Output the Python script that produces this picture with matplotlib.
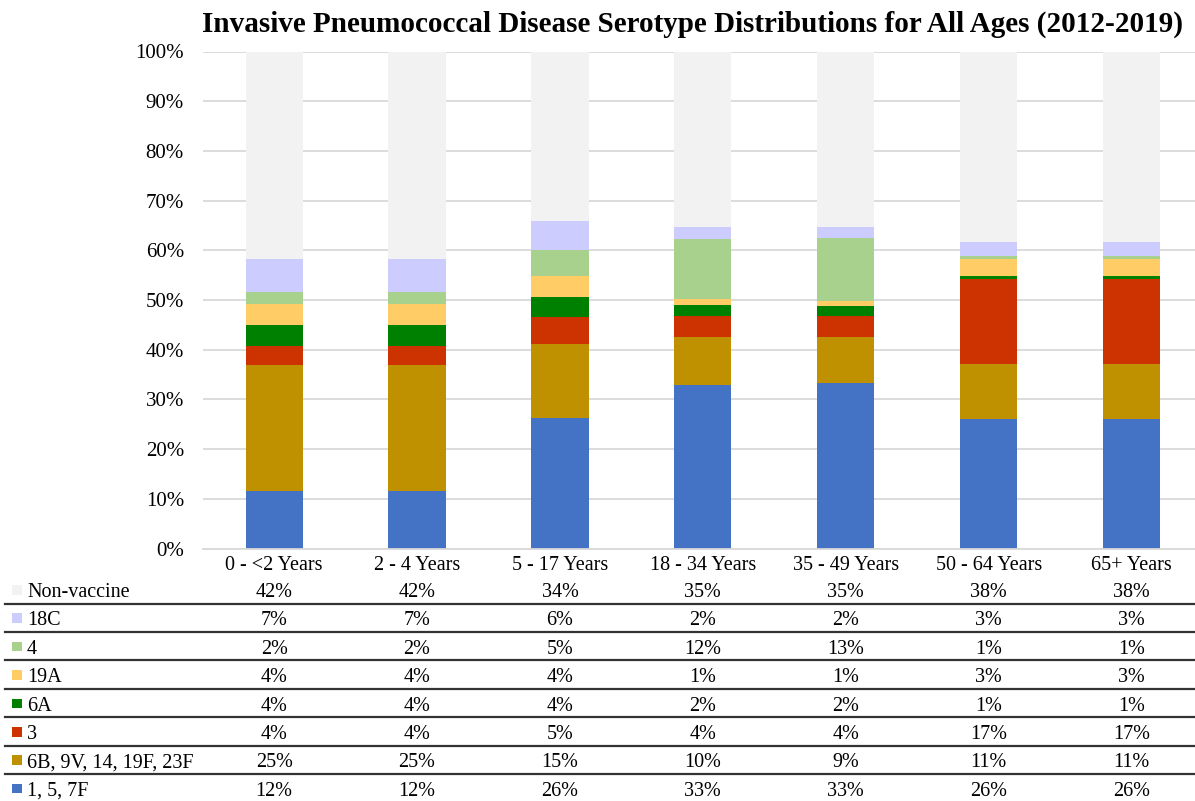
import numpy as np
import matplotlib
matplotlib.use("Agg")
import matplotlib.pyplot as plt
from matplotlib import transforms
from matplotlib.lines import Line2D

# age groups
groups = ["0 - <2 Years", "2 - 4 Years", "5 - 17 Years", "18 - 34 Years",
          "35 - 49 Years", "50 - 64 Years", "65+ Years"]

# serotype shares in % (bottom to top of each bar)
s_1_5_7f = [11.6, 11.6, 26.3, 32.9, 33.3, 26.1, 26.1]
s_6b = [25.4, 25.4, 14.8, 9.7, 9.3, 11.0, 11.0]
s_3 = [3.8, 3.8, 5.4, 4.1, 4.1, 17.2, 17.2]
s_6a = [4.2, 4.2, 4.2, 2.3, 2.1, 0.6, 0.6]
s_19a = [4.2, 4.2, 4.2, 1.2, 1.0, 3.3, 3.3]
s_4 = [2.4, 2.4, 5.2, 12.0, 12.6, 0.7, 0.7]
s_18c = [6.6, 6.6, 5.8, 2.4, 2.2, 2.7, 2.7]
s_nonvac = [41.8, 41.8, 34.1, 35.4, 35.4, 38.4, 38.4]

series = [
    ("1, 5, 7F", s_1_5_7f, "#4472C4"),
    ("6B, 9V, 14, 19F, 23F", s_6b, "#BF9000"),
    ("3", s_3, "#CC3300"),
    ("6A", s_6a, "#008000"),
    ("19A", s_19a, "#FFCC66"),
    ("4", s_4, "#A9D18E"),
    ("18C", s_18c, "#CCCCFF"),
    ("Non-vaccine", s_nonvac, "#F2F2F2"),
]

plt.rcParams["font.family"] = ["Liberation Serif", "DejaVu Serif"]

W, H = 1195, 801
fig = plt.figure(figsize=(W / 100, H / 100), dpi=100)
ax = fig.add_axes([202.7 / W, 1 - 548.5 / H, 1000.3 / W, 497 / H])

x = np.arange(len(groups))
bottom = np.zeros(len(groups))
for name, vals, col in series:
    ax.bar(x, vals, width=0.40, bottom=bottom, color=col, zorder=2)
    bottom += np.array(vals)

ax.set_xlim(-0.5, len(groups) - 0.5)
ax.set_ylim(0, 100)
ax.set_yticks(np.arange(0, 101, 10))
ax.set_yticklabels([f"{v}%" for v in range(0, 101, 10)], fontsize=15)
ax.yaxis.grid(True, color="#d9d9d9", linewidth=1.3, zorder=0)
ax.tick_params(axis="y", length=0, pad=13.5)
ax.set_xticks(x)
ax.set_xticklabels(groups, fontsize=14.5)
ax.tick_params(axis="x", length=0, pad=5.5)
for sp in ["left", "right", "top"]:
    ax.spines[sp].set_visible(False)
ax.spines["bottom"].set_color("#d9d9d9")
ax.spines["bottom"].set_linewidth(1.3)

fig.text(693 / W, 1 - 24 / H, "Invasive Pneumococcal Disease Serotype Distributions for All Ages (2012-2019)",
         ha="center", va="center", fontsize=21, fontweight="bold")

# data table under the chart
trans = transforms.blended_transform_factory(ax.transData, fig.transFigure)
row_y0 = 590
row_h = 28.4
for i, (name, vals, col) in enumerate(series[::-1]):
    yr = row_y0 + i * row_h
    yc = 1 - yr / H
    yt = 1 - (yr + 2.5) / H
    fig.patches.append(plt.Rectangle((12 / W, yc - 4.5 / H), 9.5 / W, 9.5 / H,
                                     transform=fig.transFigure, figure=fig,
                                     facecolor=col, edgecolor="none"))
    fig.text(27 / W, yt, name, ha="left", va="center", fontsize=14.5)
    for xi, v in zip(x, vals):
        fig.text(xi, yt, f"{v:.0f}%", transform=trans, ha="center", va="center", fontsize=14.5)
    if i < len(series) - 1:
        ly = 1 - (yr + 13.5) / H
        fig.lines.append(Line2D([5 / W, 1], [ly, ly], transform=fig.transFigure,
                                color="#333333", linewidth=1.6))

fig.savefig("out.png", dpi=100)
